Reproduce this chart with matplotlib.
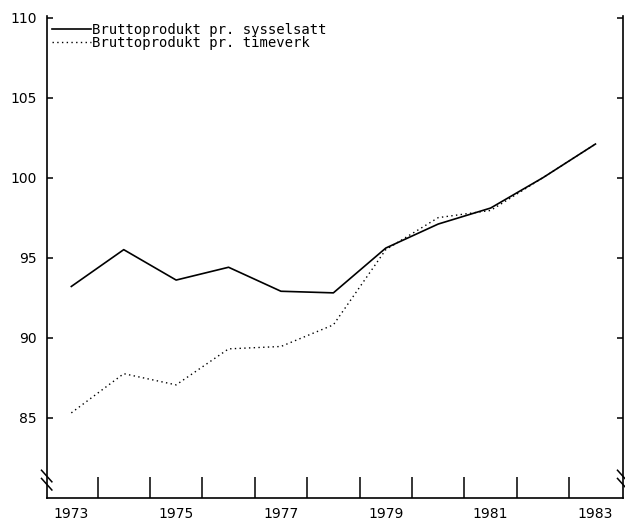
import matplotlib
matplotlib.use("Agg")
import matplotlib.pyplot as plt
import numpy as np

years = [1973, 1974, 1975, 1976, 1977, 1978, 1979, 1980, 1981, 1982, 1983]
pr_sysselsatt = [93.2, 95.5, 93.6, 94.4, 92.9, 92.8, 95.6, 97.1, 98.1, 100.0, 102.1]
pr_timeverk = [85.3, 87.75, 87.05, 89.3, 89.45, 90.8, 95.5, 97.5, 97.95, 100.0, 102.1]
labels = ["Bruttoprodukt pr. sysselsatt", "Bruttoprodukt pr. timeverk"]
year_labels = [1973, 1975, 1977, 1979, 1981, 1983]
y_ticks = [85, 90, 95, 100, 105, 110]

fig = plt.figure(figsize=(6.25, 5.25), dpi=100)
ax = fig.add_axes([0.0747, 0.052, 0.9216, 0.9175])

ax.plot(years, pr_sysselsatt, color="black", lw=1.2, label=labels[0])
ax.plot(years, pr_timeverk, color="black", lw=1.0, linestyle=(0, (1, 2.4)), label=labels[1])

ax.set_xlim(1972.53, 1983.52)
ax.set_ylim(80, 110.1)

# year labels in the middle of each interval, tick marks on the boundaries
ax.set_xticks(year_labels)
ax.set_xticklabels([str(y) for y in year_labels], fontsize=10)
ax.set_xticks(np.arange(1973.5, 1983, 1.0), minor=True)
ax.tick_params(axis="x", which="major", length=0, pad=7)
ax.tick_params(axis="x", which="minor", direction="in", length=15, width=1.1)

ax.set_yticks(y_ticks)
ax.set_yticklabels([str(v) for v in y_ticks], fontsize=10)
ax.tick_params(axis="y", direction="in", length=4, width=1.1, right=True, pad=7)

ax.spines["top"].set_visible(False)
for s in ["left", "right", "bottom"]:
    ax.spines[s].set_linewidth(1.2)

# axis break marks
for xb in [0.0, 1.0]:
    for yb in [0.028, 0.045]:
        ax.plot([xb - 0.009, xb + 0.009], [yb + 0.012, yb - 0.012], transform=ax.transAxes,
                color="black", lw=1.1, clip_on=False)

leg = ax.legend(loc="upper left", bbox_to_anchor=(0.01, 0.985), frameon=False,
                borderaxespad=0, borderpad=0, handlelength=2.8, handletextpad=0.05,
                labelspacing=-0.1, prop={"family": "DejaVu Sans Mono", "size": 10})

fig.savefig("out.png", dpi=100)
